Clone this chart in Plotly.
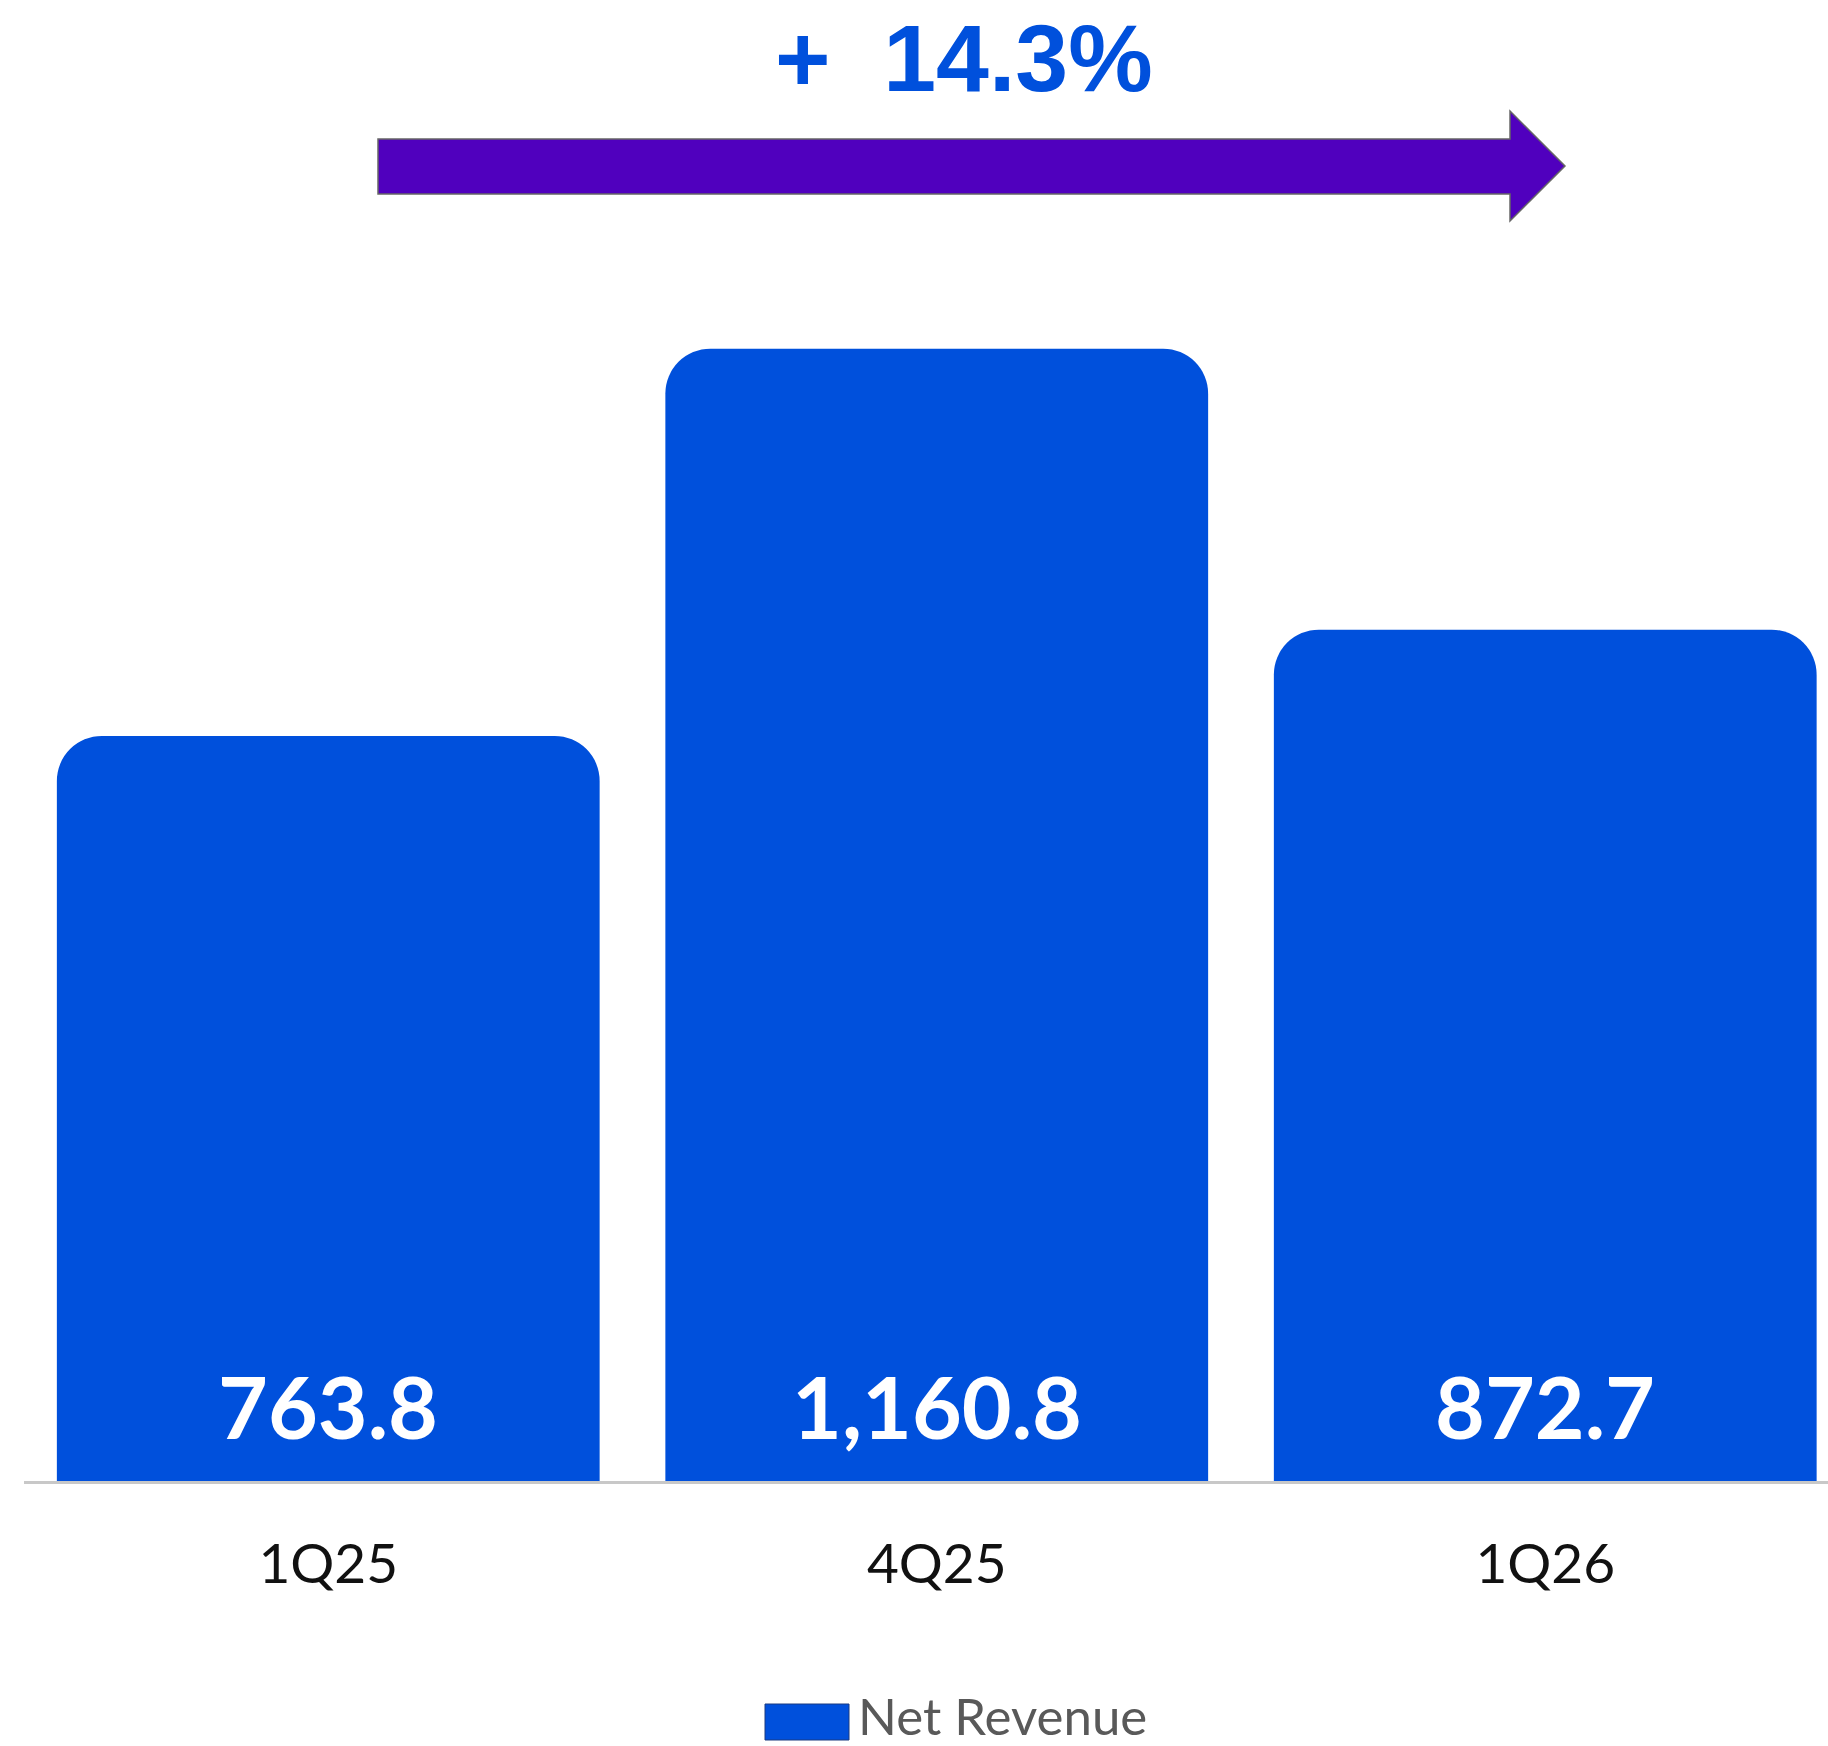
import plotly.graph_objects as go

# ---- data ----
categories = ["1Q25", "4Q25", "1Q26"]
net_revenue = [763.8, 1160.8, 872.7]
series_name = "Net Revenue"
growth_label = "+\u00a0\u00a014.3%"

W, H = 1828, 1746
ML, MR, MT, MB = 24, 0, 0, 265
PW, PH = W - ML - MR, H - MT - MB

BAR_COLOR = "#0050DC"
ARROW_COLOR = "#5000BE"


def px(x):
    return (x - ML) / PW


def py(y):
    return (H - MB - y) / PH


fig = go.Figure()
fig.add_trace(go.Bar(
    x=categories, y=net_revenue, name=series_name,
    marker=dict(color=BAR_COLOR, cornerradius=45, line=dict(width=0)),
    showlegend=False, hoverinfo="skip",
))

annotations = []
for c, v in zip(categories, net_revenue):
    annotations.append(dict(
        x=c, y=0, xref="x", yref="y", text=f"{v:,.1f}", showarrow=False,
        yanchor="middle", yshift=76,
        font=dict(family="Lato", size=86, color="white", weight="bold"),
    ))

# growth label
annotations.append(dict(
    x=px(964), y=py(58), xref="paper", yref="paper", text=growth_label,
    showarrow=False, xanchor="center", yanchor="middle",
    font=dict(family="Liberation Sans", size=95, color=BAR_COLOR, weight="bold"),
))

# legend text
annotations.append(dict(
    x=px(857), y=py(1715), xref="paper", yref="paper", text=series_name,
    showarrow=False, xanchor="left", yanchor="middle", borderpad=0,
    font=dict(family="Lato", size=51, color="#595959"),
))

# arrow shape
pts = [(378, 139), (1510, 139), (1510, 111), (1565, 166), (1510, 221), (1510, 194), (378, 194)]
path = "M " + " L ".join(f"{px(x):.5f},{py(y):.5f}" for x, y in pts) + " Z"
shapes = [
    dict(type="path", path=path, xref="paper", yref="paper",
         fillcolor=ARROW_COLOR, line=dict(color="#666666", width=1.5)),
    dict(type="rect", xref="paper", yref="paper",
         x0=px(765), x1=px(849), y0=py(1740), y1=py(1704),
         fillcolor=BAR_COLOR, line=dict(color="#1a3a80", width=1)),
]

fig.update_layout(
    width=W, height=H,
    margin=dict(l=ML, r=MR, t=MT, b=MB, pad=0),
    paper_bgcolor="white", plot_bgcolor="white",
    bargap=0.108,
    annotations=annotations, shapes=shapes,
    xaxis=dict(
        range=[-0.5, -0.5 + PW / 608.5],
        showline=True, linecolor="#c8c8c8", linewidth=3,
        showgrid=False, zeroline=False, ticks="",
        tickfont=dict(family="Lato", size=55, color="#111111"),
        ticklabelstandoff=33,
    ),
    yaxis=dict(range=[0, PH / 0.9755], visible=False, showgrid=False, zeroline=False),
)

fig.write_html(
    "out.html",
    config={"displayModeBar": False},
    post_script="document.body.style.margin='0';document.body.style.overflow='hidden';",
)
